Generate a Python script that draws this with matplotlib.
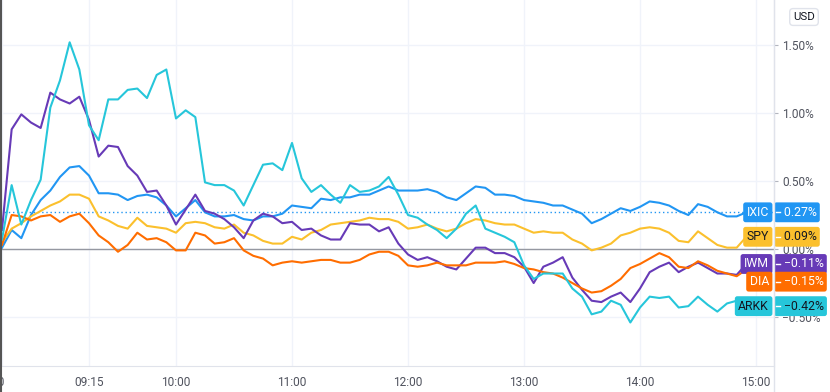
import matplotlib
matplotlib.use("Agg")
import matplotlib.pyplot as plt
import matplotlib.transforms as mtransforms
from matplotlib.lines import Line2D

plt.rcParams['font.family'] = ['Roboto', 'DejaVu Sans']

# minutes after 08:30, one reading every 5 minutes (08:30 .. 14:55)
minutes = list(range(0, 390, 5))

# % change
ixic = [0.01, 0.14, 0.08, 0.25, 0.36, 0.43, 0.53, 0.60, 0.61, 0.54,
        0.41, 0.41, 0.40, 0.36, 0.39, 0.40, 0.38, 0.32, 0.24, 0.30,
        0.36, 0.27, 0.24, 0.24, 0.25, 0.22, 0.21, 0.24, 0.24, 0.26,
        0.32, 0.31, 0.30, 0.37, 0.36, 0.38, 0.38, 0.40, 0.40, 0.43,
        0.46, 0.43, 0.43, 0.43, 0.44, 0.42, 0.38, 0.36, 0.41, 0.46,
        0.45, 0.40, 0.40, 0.39, 0.36, 0.35, 0.34, 0.32, 0.32, 0.29,
        0.26, 0.19, 0.22, 0.26, 0.30, 0.28, 0.31, 0.35, 0.34, 0.32,
        0.28, 0.25, 0.33, 0.31, 0.27, 0.24, 0.24, 0.27]
spy = [0.05, 0.15, 0.19, 0.24, 0.28, 0.32, 0.35, 0.40, 0.40, 0.37,
       0.24, 0.21, 0.17, 0.15, 0.23, 0.17, 0.16, 0.15, 0.12, 0.19,
       0.20, 0.19, 0.16, 0.15, 0.18, 0.12, 0.10, 0.06, 0.04, 0.04,
       0.09, 0.07, 0.12, 0.14, 0.18, 0.19, 0.20, 0.21, 0.23, 0.22,
       0.22, 0.20, 0.15, 0.16, 0.18, 0.15, 0.13, 0.15, 0.19, 0.22,
       0.21, 0.19, 0.18, 0.18, 0.15, 0.12, 0.13, 0.12, 0.12, 0.07,
       0.04, -0.01, 0.01, 0.04, 0.10, 0.12, 0.15, 0.16, 0.15, 0.12,
       0.06, 0.05, 0.13, 0.08, 0.03, 0.01, 0.01, 0.09]
iwm = [0.14, 0.88, 0.99, 0.93, 0.89, 1.15, 1.10, 1.07, 1.12, 0.95,
       0.68, 0.76, 0.75, 0.61, 0.54, 0.42, 0.43, 0.32, 0.18, 0.29,
       0.40, 0.28, 0.26, 0.22, 0.16, 0.08, 0.21, 0.26, 0.24, 0.19,
       0.20, 0.14, 0.15, 0.10, 0.07, 0.07, 0.19, 0.18, 0.18, 0.13,
       0.16, 0.04, -0.04, -0.08, -0.06, -0.09, -0.13, -0.15, -0.07, 0.01,
       0.01, -0.03, -0.03, -0.06, -0.13, -0.25, -0.13, -0.10, -0.06, -0.21,
       -0.30, -0.38, -0.39, -0.35, -0.32, -0.39, -0.29, -0.17, -0.13, -0.10,
       -0.17, -0.13, -0.10, -0.14, -0.18, -0.18, -0.19, -0.11]
dia = [0.03, 0.25, 0.24, 0.21, 0.24, 0.25, 0.20, 0.24, 0.26, 0.19,
       0.10, 0.05, -0.02, 0.03, 0.12, 0.07, 0.08, 0.05, -0.01, -0.01,
       0.12, 0.10, 0.04, 0.05, 0.08, -0.01, -0.05, -0.07, -0.12, -0.10,
       -0.09, -0.10, -0.09, -0.08, -0.08, -0.10, -0.10, -0.08, -0.04, -0.02,
       -0.02, -0.05, -0.12, -0.13, -0.12, -0.10, -0.12, -0.12, -0.12, -0.10,
       -0.10, -0.10, -0.09, -0.11, -0.14, -0.15, -0.17, -0.18, -0.21, -0.25,
       -0.29, -0.32, -0.31, -0.27, -0.22, -0.14, -0.11, -0.07, -0.03, -0.06,
       -0.13, -0.14, -0.09, -0.12, -0.16, -0.18, -0.20, -0.15]
arkk = [0.07, 0.47, 0.18, 0.36, 0.51, 1.04, 1.24, 1.52, 1.32, 0.91,
        0.80, 1.10, 1.10, 1.17, 1.18, 1.11, 1.28, 1.32, 0.96, 1.02,
        0.97, 0.49, 0.47, 0.47, 0.43, 0.32, 0.47, 0.62, 0.63, 0.58,
        0.78, 0.52, 0.42, 0.47, 0.40, 0.34, 0.47, 0.42, 0.43, 0.46,
        0.53, 0.40, 0.25, 0.23, 0.18, 0.14, 0.08, 0.15, 0.26, 0.32,
        0.15, 0.12, 0.09, 0.05, -0.12, -0.22, -0.18, -0.18, -0.18, -0.29,
        -0.35, -0.48, -0.46, -0.38, -0.41, -0.54, -0.43, -0.35, -0.36, -0.35,
        -0.43, -0.42, -0.35, -0.41, -0.46, -0.40, -0.38, -0.42]

names = ['IXIC', 'SPY', 'IWM', 'DIA', 'ARKK']
series = [ixic, spy, iwm, dia, arkk]
colors = ['#2196F3', '#FBC02D', '#673AB7', '#FF6D00', '#26C6DA']
text_colors = ['white', '#131722', 'white', 'white', '#131722']

tick_pos = [0, 45, 90, 150, 210, 270, 330, 390]
tick_labels = ['08:30', '09:15', '10:00', '11:00', '12:00', '13:00', '14:00', '15:00']
y_ticks = [-0.5, 0.0, 0.5, 1.0, 1.5]

W, H = 830, 392
fig = plt.figure(figsize=(W / 100, H / 100), dpi=100)
ax = fig.add_axes([0, 26 / H, 774 / W, 366 / H])

for name, s, c in zip(names, series, colors):
    ax.plot(minutes, s, color=c, lw=1.5, zorder=3)

ax.axhline(0, color='#9598A1', lw=1, zorder=2)
ax.axhline(ixic[-1], color=colors[0], lw=1, ls=(0, (1, 2)), zorder=2)

ax.set_xlim(-1.03, 399.3)
ax.set_ylim(-0.860, 1.831)
ax.set_xticks(tick_pos)
ax.set_xticklabels(tick_labels)
ax.set_yticks(y_ticks)
ax.set_yticklabels([f"{v:.2f}%".replace('-', '\u2212') for v in y_ticks])
ax.yaxis.tick_right()
ax.grid(color='#F0F3FA', lw=1)
ax.set_axisbelow(True)

for side in ['top', 'left']:
    ax.spines[side].set_visible(False)
for side in ['right', 'bottom']:
    ax.spines[side].set_color('#E0E3EB')
ax.tick_params(axis='y', length=3, color='#B2B5BE', pad=3, labelsize=8.6, labelcolor='#50535E')
ax.tick_params(axis='x', length=0, pad=7, labelsize=8.6, labelcolor='#50535E')

# the first time label sits mostly past the left edge, as in the screenshot
first = ax.get_xticklabels()[0]
first.set_transform(first.get_transform() + mtransforms.ScaledTranslation(-12 / 100, 0, fig.dpi_scale_trans))

# last-value labels, pushed apart so they don't overlap
gap = 0.13
order = sorted(range(len(series)), key=lambda i: -series[i][-1])
label_y = {}
prev = None
for i in order:
    y = series[i][-1]
    if prev is not None and prev - y < gap:
        y = prev - gap
    label_y[i] = y
    prev = y

blend = mtransforms.blended_transform_factory(ax.transAxes, ax.transData)
for i in order:
    y = label_y[i]
    v = series[i][-1]
    box = dict(boxstyle='round,pad=0.28,rounding_size=0.2', fc=colors[i], ec='none')
    ax.text(769 / 774, y, names[i], transform=blend, ha='right', va='center',
            fontsize=8.8, color=text_colors[i], bbox=box, clip_on=False, zorder=6)
    ax.text(777.5 / 774, y, "  " + f"{v:.2f}%".replace('-', '\u2212'), transform=blend,
            ha='left', va='center', fontsize=8.8, color=text_colors[i], bbox=box,
            clip_on=False, zorder=6)
    ax.plot([776 / 774, 780 / 774], [y, y], transform=blend, color='white', lw=1,
            clip_on=False, zorder=7)

fig.text(804 / W, 1 - 17 / H, 'USD', ha='center', va='center', fontsize=8.2, color='#131722',
         bbox=dict(boxstyle='round,pad=0.3,rounding_size=0.3', fc='white', ec='#E0E3EB'))
fig.add_artist(Line2D([774 / W, 774 / W], [0, 1], color='#E0E3EB', lw=1))
fig.add_artist(Line2D([0.0012, 0.0012], [0, 1], color='#555555', lw=1.5))

fig.savefig('out.png', dpi=100)
